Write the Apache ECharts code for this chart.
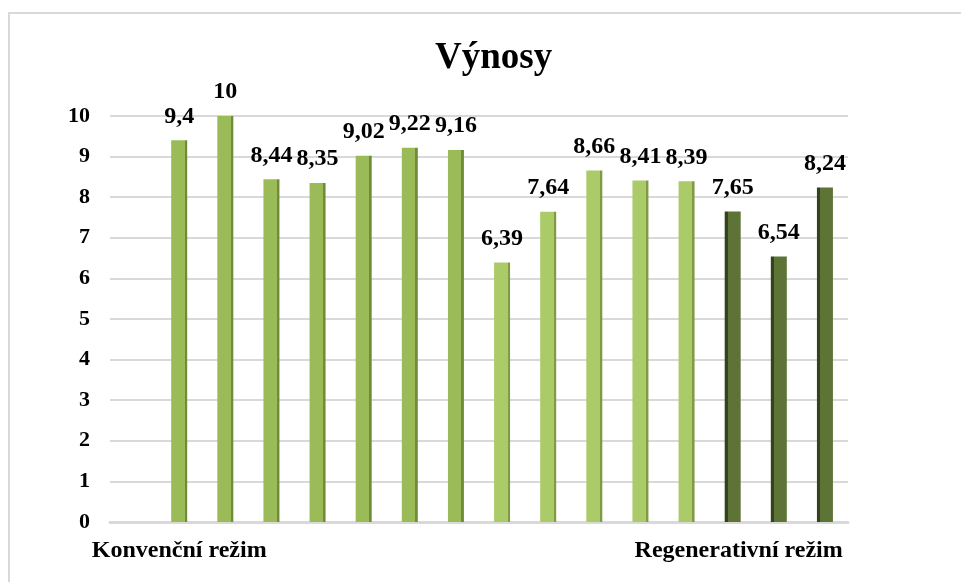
<!DOCTYPE html>
<html>
<head>
<meta charset="utf-8">
<script src="https://cdn.jsdelivr.net/npm/echarts@6/dist/echarts.min.js"></script>
<style>
  html, body { margin: 0; padding: 0; background: #fff; }
  #chart { width: 961px; height: 582px; }
</style>
</head>
<body>
<div id="chart"></div>
<script>
// Yield per variant; the first slot is an empty spacer category
const categories = ['', 'Konvenční režim', '', '', '', '', '', '', '', '', '', '', '', 'Regenerativní režim', '', ''];
const yields = [null, 9.4, 10, 8.44, 8.35, 9.02, 9.22, 9.16, 6.39, 7.64, 8.66, 8.41, 8.39, 7.65, 6.54, 8.24];
// Group of each bar: 0 = spacer, 1 = conventional, 2 = transition, 3 = regenerative
const groups = [0, 1, 1, 1, 1, 1, 1, 1, 2, 2, 2, 2, 2, 3, 3, 3];
const yTicks = [0, 1, 2, 3, 4, 5, 6, 7, 8, 9, 10];

const SERIF = '"Liberation Serif", "Times New Roman", serif';

// Face colour with a thin shaded side strip for a raised look
function barFill(group) {
  if (group === 3) {
    return new echarts.graphic.LinearGradient(0, 0, 1, 0, [
      { offset: 0, color: '#34431d' },
      { offset: 0.2, color: '#34431d' },
      { offset: 0.2, color: '#5d7436' },
      { offset: 1, color: '#5d7436' }
    ]);
  }
  const face = group === 1 ? '#9bbb59' : '#abca68';
  const side = group === 1 ? '#6f8d38' : '#7f9c45';
  return new echarts.graphic.LinearGradient(0, 0, 1, 0, [
    { offset: 0, color: face },
    { offset: 0.84, color: face },
    { offset: 0.84, color: side },
    { offset: 1, color: side }
  ]);
}

const barData = yields.map((v, i) => ({
  value: v,
  itemStyle: { color: barFill(groups[i]) }
}));

const chart = echarts.init(document.getElementById('chart'));
chart.setOption({
  animation: false,
  backgroundColor: '#fff',
  title: {
    text: 'Výnosy',
    left: 430,
    top: 35,
    textStyle: { fontFamily: SERIF, fontWeight: 'bold', fontSize: 37, color: '#000' }
  },
  grid: { left: 110, right: 113, top: 116, bottom: 60, containLabel: false },
  xAxis: {
    type: 'category',
    data: categories,
    axisTick: { show: false },
    axisLine: { lineStyle: { color: '#d9d9d9', width: 3 } },
    axisLabel: {
      interval: 0,
      margin: 17,
      fontFamily: SERIF,
      fontWeight: 'bold',
      fontSize: 24,
      color: '#000',
      overflow: 'none',
      // nudge the regenerative group caption slightly to the right
      formatter: (v, i) => (i === 13 ? '\u2002' + v : v)
    }
  },
  yAxis: {
    type: 'value',
    min: yTicks[0],
    max: yTicks[yTicks.length - 1],
    interval: 1,
    axisLine: { show: false },
    axisTick: { show: false },
    splitLine: { lineStyle: { color: '#d9d9d9', width: 2 } },
    axisLabel: {
      margin: 20,
      fontFamily: SERIF,
      fontWeight: 'bold',
      fontSize: 22,
      color: '#000'
    }
  },
  series: [{
    type: 'bar',
    data: barData,
    barWidth: 16,
    label: {
      show: true,
      position: 'top',
      distance: 12,
      fontFamily: SERIF,
      fontWeight: 'bold',
      fontSize: 24,
      color: '#000',
      formatter: p => (p.value == null ? '' : String(p.value).replace('.', ','))
    }
  }],
  graphic: [{
    type: 'polyline',
    shape: { points: [[9, 582], [9, 13], [961, 13]] },
    style: { stroke: '#d9d9d9', lineWidth: 2, fill: null }
  }]
});
</script>
</body>
</html>
